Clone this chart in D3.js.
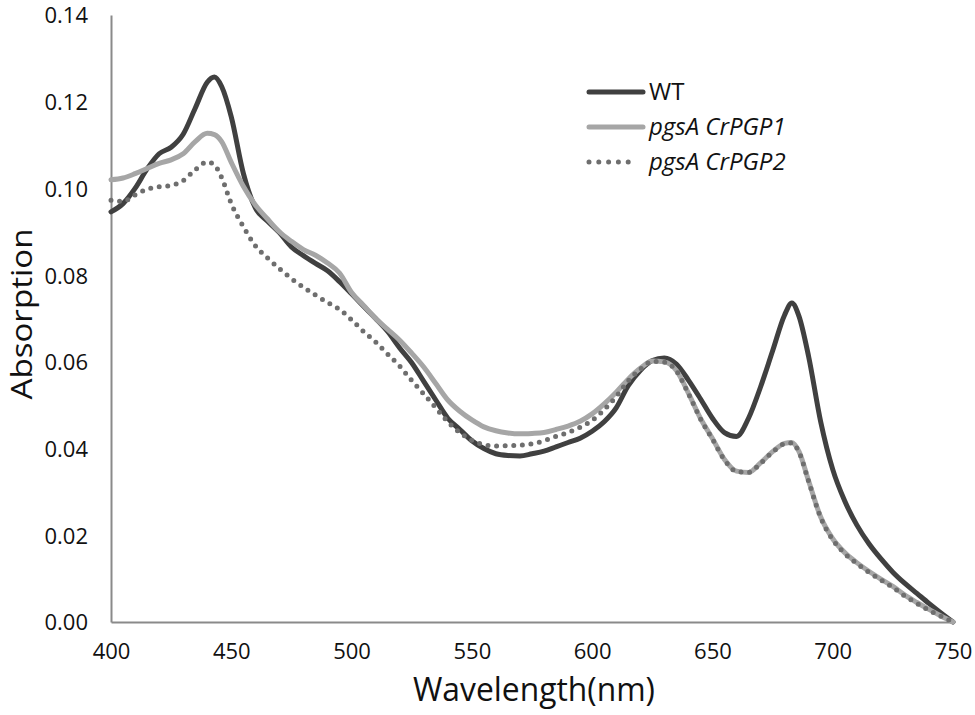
<!DOCTYPE html>
<html>
<head>
<meta charset="utf-8">
<script src="https://cdn.jsdelivr.net/npm/d3@7"></script>
<style>
    html, body { margin: 0; padding: 0; background: #fff; }
    svg { display: block; font-family: 'Open Sans', 'Noto Sans', sans-serif; }
</style>
</head>
<body>
<svg id="chart" width="975" height="715"></svg>
<script>
(function () {
    'use strict';

    // wavelength grid (nm) shared by all three spectra
    const wavelengths = [
        400, 405, 410, 415, 420, 425, 430, 435, 440, 443, 446, 450, 455, 460, 465, 470,
        475, 480, 485, 490, 495, 500, 505, 510, 515, 520, 525, 530, 535, 540, 545, 550,
        555, 560, 565, 570, 575, 580, 585, 590, 595, 600, 605, 610, 615, 620, 625, 630,
        635, 640, 645, 650, 655, 660, 665, 670, 675, 680, 683, 686, 690, 695, 700, 705,
        710, 715, 720, 725, 730, 735, 740, 745, 750
    ];

    const wtValues = [
        0.0946, 0.0965, 0.1000, 0.1045, 0.1080, 0.1095, 0.1125, 0.1185, 0.1245, 0.1257, 0.1235, 0.1165, 0.1035, 0.0955, 0.0925, 0.0898,
        0.0865, 0.0845, 0.0827, 0.0810, 0.0785, 0.0757, 0.0728, 0.0700, 0.0670, 0.0632, 0.0598, 0.0555, 0.0512, 0.0470, 0.0444, 0.0418,
        0.0400, 0.0388, 0.0384, 0.0383, 0.0388, 0.0394, 0.0404, 0.0414, 0.0424, 0.0440, 0.0462, 0.0494, 0.0545, 0.0580, 0.0603, 0.0609,
        0.0595, 0.0558, 0.0515, 0.0470, 0.0437, 0.0428, 0.0470, 0.0542, 0.0625, 0.0708, 0.0736, 0.0705, 0.0612, 0.0462, 0.0352, 0.0279,
        0.0224, 0.0181, 0.0146, 0.0115, 0.0089, 0.0066, 0.0043, 0.0021, 0.0000
    ];

    const pgp1Values = [
        0.1020, 0.1024, 0.1034, 0.1046, 0.1058, 0.1066, 0.1080, 0.1108, 0.1127, 0.1124, 0.1108, 0.1060, 0.1005, 0.0962, 0.0930, 0.0900,
        0.0878, 0.0859, 0.0846, 0.0828, 0.0805, 0.0760, 0.0730, 0.0700, 0.0675, 0.0650, 0.0620, 0.0588, 0.0550, 0.0512, 0.0486, 0.0466,
        0.0450, 0.0441, 0.0436, 0.0434, 0.0435, 0.0437, 0.0444, 0.0452, 0.0463, 0.0480, 0.0503, 0.0530, 0.0560, 0.0585, 0.0602, 0.0600,
        0.0580, 0.0528, 0.0470, 0.0423, 0.0375, 0.0348, 0.0345, 0.0367, 0.0393, 0.0412, 0.0414, 0.0393, 0.0325, 0.0242, 0.0192, 0.0160,
        0.0137, 0.0117, 0.0099, 0.0082, 0.0062, 0.0045, 0.0029, 0.0014, 0.0000
    ];

    const pgp2Values = [
        0.0973, 0.0970, 0.0985, 0.0998, 0.1004, 0.1007, 0.1018, 0.1043, 0.1061, 0.1054, 0.1025, 0.0965, 0.0912, 0.0868, 0.0840, 0.0815,
        0.0792, 0.0772, 0.0754, 0.0737, 0.0721, 0.0697, 0.0670, 0.0646, 0.0618, 0.0590, 0.0557, 0.0526, 0.0494, 0.0462, 0.0437, 0.0419,
        0.0409, 0.0406, 0.0407, 0.0408, 0.0411, 0.0418, 0.0428, 0.0437, 0.0449, 0.0465, 0.0490, 0.0520, 0.0556, 0.0583, 0.0601, 0.0599,
        0.0579, 0.0527, 0.0469, 0.0422, 0.0374, 0.0347, 0.0345, 0.0366, 0.0392, 0.0411, 0.0413, 0.0392, 0.0324, 0.0241, 0.0190, 0.0158,
        0.0135, 0.0115, 0.0097, 0.0080, 0.0060, 0.0043, 0.0027, 0.0013, 0.0000
    ];

    const seriesNames = ['WT', 'pgsA CrPGP1', 'pgsA CrPGP2'];
    const xTicks = [400, 450, 500, 550, 600, 650, 700, 750];
    const yTicks = [0, 0.02, 0.04, 0.06, 0.08, 0.10, 0.12, 0.14];

    const styles = [
        { color: '#404040', width: 5, dash: null, italic: false },
        { color: '#a6a6a6', width: 5, dash: null, italic: true },
        { color: '#6e6e6e', width: 5, dash: '0 8.6', italic: true },
    ];

    const plot = { left: 111, right: 953, top: 15, bottom: 622 };

    const x = d3.scaleLinear().domain([400, 750]).range([plot.left, plot.right]);
    const y = d3.scaleLinear().domain([0, 0.14]).range([plot.bottom, plot.top]);

    const svg = d3.select('#chart');

    // axes: plain grey lines, no tick marks
    const xAxis = svg.append('g')
        .attr('transform', `translate(0,${plot.bottom})`)
        .call(d3.axisBottom(x).tickValues(xTicks).tickSize(0).tickPadding(0).tickFormat(d3.format('d')));
    xAxis.select('.domain').attr('stroke', '#8a8a8a').attr('stroke-width', 2);
    xAxis.selectAll('text')
        .attr('y', 37)
        .attr('dy', 0)
        .attr('font-size', 22)
        .attr('font-family', "'Open Sans', sans-serif")
        .attr('fill', '#111');

    const yAxis = svg.append('g')
        .attr('transform', `translate(${plot.left},0)`)
        .call(d3.axisLeft(y).tickValues(yTicks).tickSize(0).tickPadding(23).tickFormat(d3.format('.2f')));
    yAxis.select('.domain').attr('stroke', '#8a8a8a').attr('stroke-width', 2);
    yAxis.selectAll('text')
        .attr('dy', '0.36em')
        .attr('font-size', 22)
        .attr('font-family', "'Open Sans', sans-serif")
        .attr('fill', '#111');

    // spectra
    const seriesValues = [wtValues, pgp1Values, pgp2Values];
    const line = d3.line()
        .x((d) => x(d[0]))
        .y((d) => y(d[1]))
        .curve(d3.curveMonotoneX);

    seriesValues.forEach((vals, i) => {
        const pts = wavelengths.map((w, j) => [w, vals[j]]);
        svg.append('path')
            .datum(pts)
            .attr('fill', 'none')
            .attr('stroke', styles[i].color)
            .attr('stroke-width', styles[i].width)
            .attr('stroke-linecap', 'round')
            .attr('stroke-linejoin', 'round')
            .attr('stroke-dasharray', styles[i].dash)
            .attr('d', line);
    });

    // legend
    const legend = svg.append('g').attr('transform', 'translate(589,92)');
    seriesNames.forEach((name, i) => {
        const row = legend.append('g').attr('transform', `translate(0,${i * 35})`);
        row.append('line')
            .attr('x1', 0).attr('x2', i === 2 ? 49 : 54)
            .attr('y1', 0).attr('y2', 0)
            .attr('stroke', styles[i].color)
            .attr('stroke-width', styles[i].width)
            .attr('stroke-linecap', 'round')
            .attr('stroke-dasharray', i === 2 ? '0 9.8' : null);
        row.append('text')
            .attr('x', 60)
            .attr('y', 8)
            .attr('font-size', 24)
            .attr('font-style', styles[i].italic ? 'italic' : 'normal')
            .attr('fill', '#111')
            .text(name);
    });

    // axis titles
    svg.append('text')
        .attr('x', 534)
        .attr('y', 701)
        .attr('text-anchor', 'middle')
        .attr('font-size', 33)
        .attr('textLength', 242)
        .attr('lengthAdjust', 'spacingAndGlyphs')
        .attr('fill', '#111')
        .text('Wavelength(nm)');

    svg.append('text')
        .attr('transform', 'translate(32,314) rotate(-90)')
        .attr('text-anchor', 'middle')
        .attr('font-size', 30)
        .attr('textLength', 171)
        .attr('lengthAdjust', 'spacingAndGlyphs')
        .attr('fill', '#111')
        .text('Absorption');
})();
</script>
</body>
</html>
